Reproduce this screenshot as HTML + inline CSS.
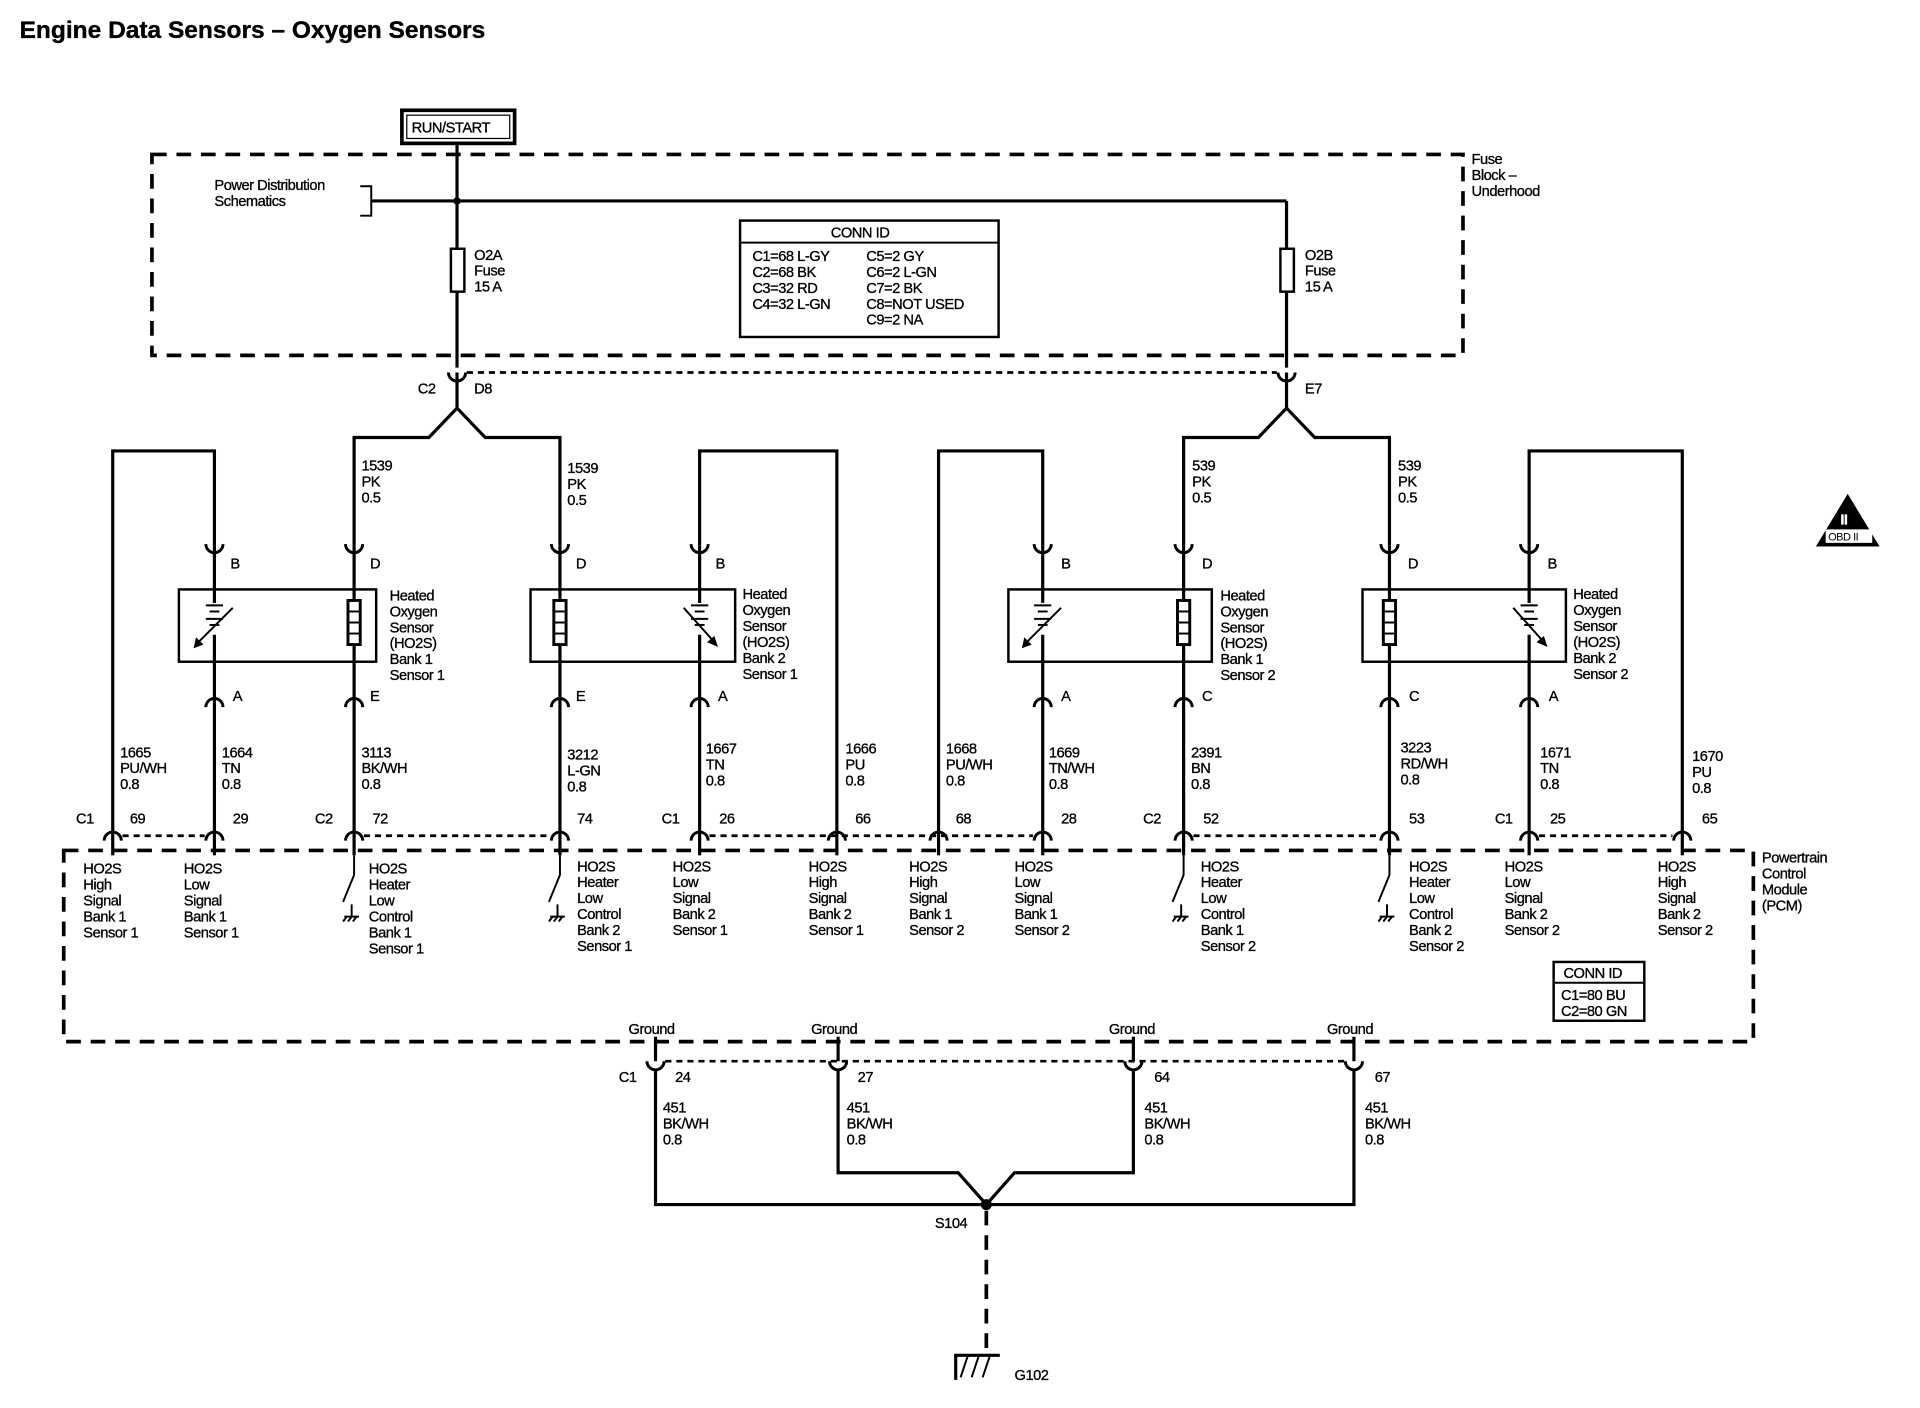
<!DOCTYPE html>
<html><head><meta charset="utf-8"><style>
html,body{margin:0;padding:0;background:#fff;}
svg{display:block}
text{font-family:"Liberation Sans",Arial,sans-serif;font-size:12px;fill:#000;stroke:#000;stroke-width:0.25;letter-spacing:-0.4px}
.w{stroke:#000;stroke-width:2.6;fill:none}
.t{stroke:#000;stroke-width:1.6;fill:none}
.d{stroke:#000;stroke-width:3;fill:none;stroke-dasharray:12 8}
.dd{stroke:#000;stroke-width:2.2;fill:none;stroke-dasharray:5 4}
</style></head><body>
<svg width="1920" height="1408" viewBox="0 0 1567 1149" preserveAspectRatio="none" xmlns="http://www.w3.org/2000/svg">
<defs>
<path id="cu" d="M-7,-6 A7,7 0 0 0 7,-6" style="stroke:#000;stroke-width:2.4;fill:none"/>
<path id="cn" d="M-7,6 A7,7 0 0 1 7,6" style="stroke:#000;stroke-width:2.4;fill:none"/>
<g id="gnd"><line x1="0" y1="0" x2="0" y2="10" class="t"/><line x1="-6" y1="10" x2="6" y2="10" class="t"/><line x1="-4" y1="10" x2="-7" y2="14" class="t"/><line x1="0" y1="10" x2="-3" y2="14" class="t"/><line x1="4" y1="10" x2="1" y2="14" class="t"/></g>
<g id="bat"><line x1="-7" y1="0" x2="7" y2="0" class="t"/><line x1="-4" y1="5" x2="4" y2="5" class="t"/><line x1="-7" y1="11" x2="7" y2="11" class="t"/><line x1="-4" y1="16" x2="4" y2="16" class="t"/></g>
<g id="htr"><rect x="-5" y="0" width="10" height="36" style="stroke:#000;stroke-width:2.4;fill:#fff"/><line x1="-5" y1="9" x2="5" y2="9" class="t"/><line x1="-5" y1="18" x2="5" y2="18" class="t"/><line x1="-5" y1="27" x2="5" y2="27" class="t"/></g>
</defs>
<text x="16" y="31" style="font-size:20px;font-weight:bold;letter-spacing:0;stroke-width:0.3">Engine Data Sensors – Oxygen Sensors</text>

<!-- RUN/START -->
<rect x="328" y="90" width="92" height="27" style="stroke:#000;stroke-width:3;fill:#fff"/>
<rect x="332" y="94" width="84" height="19" style="stroke:#000;stroke-width:1;fill:none"/>
<text x="336" y="108">RUN/START</text>

<!-- fuse block -->
<rect x="124" y="126" width="1070" height="164" class="d"/>
<text x="1201" y="134">Fuse</text><text x="1201" y="147">Block –</text><text x="1201" y="160">Underhood</text>
<text x="175" y="155">Power Distribution</text><text x="175" y="168">Schematics</text>
<path d="M294,152 H303 V176 H294" class="t"/>
<line x1="303" y1="164" x2="1050" y2="164" class="w"/>
<circle cx="373" cy="164" r="3"/>
<line x1="373" y1="117" x2="373" y2="300" class="w"/>
<line x1="1050" y1="164" x2="1050" y2="300" class="w"/>
<rect x="368" y="203" width="11" height="35" style="stroke:#000;stroke-width:2;fill:#fff"/>
<rect x="1045" y="203" width="11" height="35" style="stroke:#000;stroke-width:2;fill:#fff"/>
<text x="387" y="212">O2A</text><text x="387" y="225">Fuse</text><text x="387" y="238">15 A</text>
<text x="1065" y="212">O2B</text><text x="1065" y="225">Fuse</text><text x="1065" y="238">15 A</text>
<rect x="604" y="180" width="211" height="95" style="stroke:#000;stroke-width:2;fill:#fff"/>
<line x1="604" y1="198" x2="815" y2="198" class="t"/>
<text x="678" y="194">CONN ID</text>
<text x="614" y="213">C1=68 L-GY</text><text x="614" y="226">C2=68 BK</text><text x="614" y="239">C3=32 RD</text><text x="614" y="252">C4=32 L-GN</text>
<text x="707" y="213">C5=2 GY</text><text x="707" y="226">C6=2 L-GN</text><text x="707" y="239">C7=2 BK</text><text x="707" y="252">C8=NOT USED</text><text x="707" y="265">C9=2 NA</text>

<!-- C2 D8 / E7 connectors -->
<use href="#cu" x="373" y="310"/><use href="#cu" x="1050" y="310"/>
<line x1="381" y1="304" x2="1042" y2="304" class="dd"/>
<text x="341" y="321">C2</text><text x="387" y="321">D8</text><text x="1065" y="321">E7</text>
<path d="M373,304 V333 L350,357 H289 V445" class="w"/>
<path d="M373,333 L396,357 H457 V445" class="w"/>
<path d="M1050,304 V333 L1027,357 H966 V445" class="w"/>
<path d="M1050,333 L1073,357 H1134 V445" class="w"/>
<text x="295" y="384">1539</text><text x="295" y="397">PK</text><text x="295" y="410">0.5</text>
<text x="463" y="386">1539</text><text x="463" y="399">PK</text><text x="463" y="412">0.5</text>
<text x="973" y="384">539</text><text x="973" y="397">PK</text><text x="973" y="410">0.5</text>
<text x="1141" y="384">539</text><text x="1141" y="397">PK</text><text x="1141" y="410">0.5</text>

<!-- signal loop wires -->
<path d="M92,680 V368 H175 V445" class="w"/>
<path d="M683,680 V368 H571 V445" class="w"/>
<path d="M766,680 V368 H851 V445" class="w"/>
<path d="M1373,680 V368 H1248 V445" class="w"/>

<!-- sensor verticals -->
<g class="w">
<line x1="175" y1="445" x2="175" y2="680"/><line x1="289" y1="445" x2="289" y2="680"/>
<line x1="457" y1="445" x2="457" y2="680"/><line x1="571" y1="445" x2="571" y2="680"/>
<line x1="851" y1="445" x2="851" y2="680"/><line x1="966" y1="445" x2="966" y2="680"/>
<line x1="1134" y1="445" x2="1134" y2="680"/><line x1="1248" y1="445" x2="1248" y2="680"/>
</g>
<!-- top connectors -->
<use href="#cu" x="175" y="450"/><use href="#cu" x="289" y="450"/><use href="#cu" x="457" y="450"/><use href="#cu" x="571" y="450"/>
<use href="#cu" x="851" y="450"/><use href="#cu" x="966" y="450"/><use href="#cu" x="1134" y="450"/><use href="#cu" x="1248" y="450"/>
<!-- bottom connectors -->
<use href="#cn" x="175" y="571"/><use href="#cn" x="289" y="571"/><use href="#cn" x="457" y="571"/><use href="#cn" x="571" y="571"/>
<use href="#cn" x="851" y="571"/><use href="#cn" x="966" y="571"/><use href="#cn" x="1134" y="571"/><use href="#cn" x="1248" y="571"/>

<!-- sensor boxes -->
<rect x="146" y="481" width="161" height="59" style="stroke:#000;stroke-width:2;fill:none"/>
<rect x="433" y="481" width="167" height="59" style="stroke:#000;stroke-width:2;fill:none"/>
<rect x="823" y="481" width="166" height="59" style="stroke:#000;stroke-width:2;fill:none"/>
<rect x="1112" y="481" width="166" height="59" style="stroke:#000;stroke-width:2;fill:none"/>
<g>
<rect x="166" y="492" width="18" height="26" fill="#fff"/><use href="#bat" x="175" y="494"/>
<line x1="190" y1="496" x2="160" y2="526" class="t"/><path d="M158,529 L160,520 L166,526 Z"/>
<rect x="562" y="492" width="18" height="26" fill="#fff"/><use href="#bat" x="571" y="494"/>
<line x1="558" y1="496" x2="583" y2="524" class="t"/><path d="M586,528 L577,524 L583,519 Z"/>
<rect x="842" y="492" width="18" height="26" fill="#fff"/><use href="#bat" x="851" y="494"/>
<line x1="866" y1="496" x2="836" y2="526" class="t"/><path d="M834,529 L836,520 L842,526 Z"/>
<rect x="1239" y="492" width="18" height="26" fill="#fff"/><use href="#bat" x="1248" y="494"/>
<line x1="1235" y1="496" x2="1260" y2="524" class="t"/><path d="M1263,528 L1254,524 L1260,519 Z"/>
<use href="#htr" x="289" y="490"/><use href="#htr" x="457" y="490"/><use href="#htr" x="966" y="490"/><use href="#htr" x="1134" y="490"/>
</g>
<g>
<text x="318" y="490">Heated</text><text x="318" y="503">Oxygen</text><text x="318" y="516">Sensor</text><text x="318" y="529">(HO2S)</text><text x="318" y="542">Bank 1</text><text x="318" y="555">Sensor 1</text>
<text x="606" y="489">Heated</text><text x="606" y="502">Oxygen</text><text x="606" y="515">Sensor</text><text x="606" y="528">(HO2S)</text><text x="606" y="541">Bank 2</text><text x="606" y="554">Sensor 1</text>
<text x="996" y="490">Heated</text><text x="996" y="503">Oxygen</text><text x="996" y="516">Sensor</text><text x="996" y="529">(HO2S)</text><text x="996" y="542">Bank 1</text><text x="996" y="555">Sensor 2</text>
<text x="1284" y="489">Heated</text><text x="1284" y="502">Oxygen</text><text x="1284" y="515">Sensor</text><text x="1284" y="528">(HO2S)</text><text x="1284" y="541">Bank 2</text><text x="1284" y="554">Sensor 2</text>
</g>
<g>
<text x="188" y="464">B</text><text x="302" y="464">D</text><text x="470" y="464">D</text><text x="584" y="464">B</text>
<text x="866" y="464">B</text><text x="981" y="464">D</text><text x="1149" y="464">D</text><text x="1263" y="464">B</text>
<text x="190" y="572">A</text><text x="302" y="572">E</text><text x="470" y="572">E</text><text x="586" y="572">A</text>
<text x="866" y="572">A</text><text x="981" y="572">C</text><text x="1150" y="572">C</text><text x="1264" y="572">A</text>
</g>
<!-- wire labels -->
<g>
<text x="98" y="618">1665</text><text x="98" y="631">PU/WH</text><text x="98" y="644">0.8</text>
<text x="181" y="618">1664</text><text x="181" y="631">TN</text><text x="181" y="644">0.8</text>
<text x="295" y="618">3113</text><text x="295" y="631">BK/WH</text><text x="295" y="644">0.8</text>
<text x="463" y="620">3212</text><text x="463" y="633">L-GN</text><text x="463" y="646">0.8</text>
<text x="576" y="615">1667</text><text x="576" y="628">TN</text><text x="576" y="641">0.8</text>
<text x="690" y="615">1666</text><text x="690" y="628">PU</text><text x="690" y="641">0.8</text>
<text x="772" y="615">1668</text><text x="772" y="628">PU/WH</text><text x="772" y="641">0.8</text>
<text x="856" y="618">1669</text><text x="856" y="631">TN/WH</text><text x="856" y="644">0.8</text>
<text x="972" y="618">2391</text><text x="972" y="631">BN</text><text x="972" y="644">0.8</text>
<text x="1143" y="614">3223</text><text x="1143" y="627">RD/WH</text><text x="1143" y="640">0.8</text>
<text x="1257" y="618">1671</text><text x="1257" y="631">TN</text><text x="1257" y="644">0.8</text>
<text x="1381" y="621">1670</text><text x="1381" y="634">PU</text><text x="1381" y="647">0.8</text>
</g>

<!-- PCM connectors -->
<g>
<use href="#cn" x="92" y="680"/><use href="#cn" x="175" y="680"/><use href="#cn" x="289" y="680"/><use href="#cn" x="457" y="680"/>
<use href="#cn" x="571" y="680"/><use href="#cn" x="683" y="680"/><use href="#cn" x="766" y="680"/><use href="#cn" x="851" y="680"/>
<use href="#cn" x="966" y="680"/><use href="#cn" x="1134" y="680"/><use href="#cn" x="1248" y="680"/><use href="#cn" x="1373" y="680"/>
</g>
<g class="w">
<line x1="92" y1="680" x2="92" y2="698"/><line x1="175" y1="680" x2="175" y2="698"/><line x1="289" y1="680" x2="289" y2="698"/><line x1="457" y1="680" x2="457" y2="698"/>
<line x1="571" y1="680" x2="571" y2="698"/><line x1="683" y1="680" x2="683" y2="698"/><line x1="766" y1="680" x2="766" y2="698"/><line x1="851" y1="680" x2="851" y2="698"/>
<line x1="966" y1="680" x2="966" y2="698"/><line x1="1134" y1="680" x2="1134" y2="698"/><line x1="1248" y1="680" x2="1248" y2="698"/><line x1="1373" y1="680" x2="1373" y2="698"/>
</g>
<g class="dd">
<line x1="100" y1="682" x2="167" y2="682"/><line x1="297" y1="682" x2="449" y2="682"/><line x1="579" y1="682" x2="843" y2="682"/><line x1="974" y1="682" x2="1126" y2="682"/><line x1="1256" y1="682" x2="1365" y2="682"/>
</g>
<g>
<text x="62" y="672">C1</text><text x="106" y="672">69</text><text x="190" y="672">29</text>
<text x="257" y="672">C2</text><text x="304" y="672">72</text><text x="471" y="672">74</text>
<text x="540" y="672">C1</text><text x="587" y="672">26</text><text x="698" y="672">66</text><text x="780" y="672">68</text><text x="866" y="672">28</text>
<text x="933" y="672">C2</text><text x="982" y="672">52</text><text x="1150" y="672">53</text>
<text x="1220" y="672">C1</text><text x="1265" y="672">25</text><text x="1389" y="672">65</text>
</g>

<!-- PCM box -->
<rect x="52" y="694" width="1379" height="156" class="d"/>
<text x="1438" y="704">Powertrain</text><text x="1438" y="717">Control</text><text x="1438" y="730">Module</text><text x="1438" y="743">(PCM)</text>
<g class="t">
<path d="M289,698 V714 L280,736"/><path d="M457,698 V714 L448,736"/><path d="M966,698 V714 L957,736"/><path d="M1134,698 V714 L1125,736"/>
</g>
<use href="#gnd" x="287" y="738"/><use href="#gnd" x="455" y="738"/><use href="#gnd" x="964" y="738"/><use href="#gnd" x="1132" y="738"/>
<g>
<text x="68" y="713">HO2S</text><text x="68" y="726">High</text><text x="68" y="739">Signal</text><text x="68" y="752">Bank 1</text><text x="68" y="765">Sensor 1</text>
<text x="150" y="713">HO2S</text><text x="150" y="726">Low</text><text x="150" y="739">Signal</text><text x="150" y="752">Bank 1</text><text x="150" y="765">Sensor 1</text>
<text x="301" y="713">HO2S</text><text x="301" y="726">Heater</text><text x="301" y="739">Low</text><text x="301" y="752">Control</text><text x="301" y="765">Bank 1</text><text x="301" y="778">Sensor 1</text>
<text x="471" y="711">HO2S</text><text x="471" y="724">Heater</text><text x="471" y="737">Low</text><text x="471" y="750">Control</text><text x="471" y="763">Bank 2</text><text x="471" y="776">Sensor 1</text>
<text x="549" y="711">HO2S</text><text x="549" y="724">Low</text><text x="549" y="737">Signal</text><text x="549" y="750">Bank 2</text><text x="549" y="763">Sensor 1</text>
<text x="660" y="711">HO2S</text><text x="660" y="724">High</text><text x="660" y="737">Signal</text><text x="660" y="750">Bank 2</text><text x="660" y="763">Sensor 1</text>
<text x="742" y="711">HO2S</text><text x="742" y="724">High</text><text x="742" y="737">Signal</text><text x="742" y="750">Bank 1</text><text x="742" y="763">Sensor 2</text>
<text x="828" y="711">HO2S</text><text x="828" y="724">Low</text><text x="828" y="737">Signal</text><text x="828" y="750">Bank 1</text><text x="828" y="763">Sensor 2</text>
<text x="980" y="711">HO2S</text><text x="980" y="724">Heater</text><text x="980" y="737">Low</text><text x="980" y="750">Control</text><text x="980" y="763">Bank 1</text><text x="980" y="776">Sensor 2</text>
<text x="1150" y="711">HO2S</text><text x="1150" y="724">Heater</text><text x="1150" y="737">Low</text><text x="1150" y="750">Control</text><text x="1150" y="763">Bank 2</text><text x="1150" y="776">Sensor 2</text>
<text x="1228" y="711">HO2S</text><text x="1228" y="724">Low</text><text x="1228" y="737">Signal</text><text x="1228" y="750">Bank 2</text><text x="1228" y="763">Sensor 2</text>
<text x="1353" y="711">HO2S</text><text x="1353" y="724">High</text><text x="1353" y="737">Signal</text><text x="1353" y="750">Bank 2</text><text x="1353" y="763">Sensor 2</text>
</g>
<rect x="1268" y="785" width="74" height="48" style="stroke:#000;stroke-width:2;fill:#fff"/>
<line x1="1268" y1="802" x2="1342" y2="802" class="t"/>
<text x="1276" y="798">CONN ID</text><text x="1274" y="816">C1=80 BU</text><text x="1274" y="829">C2=80 GN</text>

<!-- grounds -->
<text x="513" y="844">Ground</text><text x="662" y="844">Ground</text><text x="905" y="844">Ground</text><text x="1083" y="844">Ground</text>
<g class="w">
<line x1="535" y1="846" x2="535" y2="866"/><line x1="684" y1="846" x2="684" y2="866"/><line x1="925" y1="846" x2="925" y2="866"/><line x1="1105" y1="846" x2="1105" y2="866"/>
</g>
<use href="#cu" x="535" y="872"/><use href="#cu" x="684" y="872"/><use href="#cu" x="925" y="872"/><use href="#cu" x="1105" y="872"/>
<line x1="543" y1="866" x2="1097" y2="866" class="dd"/>
<text x="505" y="883">C1</text><text x="551" y="883">24</text><text x="700" y="883">27</text><text x="942" y="883">64</text><text x="1122" y="883">67</text>
<g>
<text x="541" y="908">451</text><text x="541" y="921">BK/WH</text><text x="541" y="934">0.8</text>
<text x="691" y="908">451</text><text x="691" y="921">BK/WH</text><text x="691" y="934">0.8</text>
<text x="934" y="908">451</text><text x="934" y="921">BK/WH</text><text x="934" y="934">0.8</text>
<text x="1114" y="908">451</text><text x="1114" y="921">BK/WH</text><text x="1114" y="934">0.8</text>
</g>
<path d="M535,872 V983 H1105 V872" class="w"/>
<path d="M684,872 V957 H782 L805,983 L828,957 H925 V872" class="w"/>
<circle cx="805" cy="983" r="4.5"/>
<text x="763" y="1002">S104</text>
<line x1="805" y1="988" x2="805" y2="1105" style="stroke:#000;stroke-width:3;stroke-dasharray:12 8"/>
<path d="M780,1126 V1106 H816" class="w"/>
<g class="t"><line x1="790" y1="1106" x2="784" y2="1124"/><line x1="799" y1="1106" x2="793" y2="1124"/><line x1="808" y1="1106" x2="802" y2="1124"/></g>
<text x="828" y="1126">G102</text>

<!-- OBD II -->
<path d="M1508,403 L1534,446 H1482 Z" fill="#000"/>
<rect x="1490" y="432" width="38" height="11" fill="#fff"/>
<text x="1492" y="441" style="font-size:9px;stroke-width:0">OBD II</text>
<text x="1502" y="428" style="font-size:12px;fill:#fff;stroke:#fff;font-weight:bold">II</text>
</svg>
</body></html>
